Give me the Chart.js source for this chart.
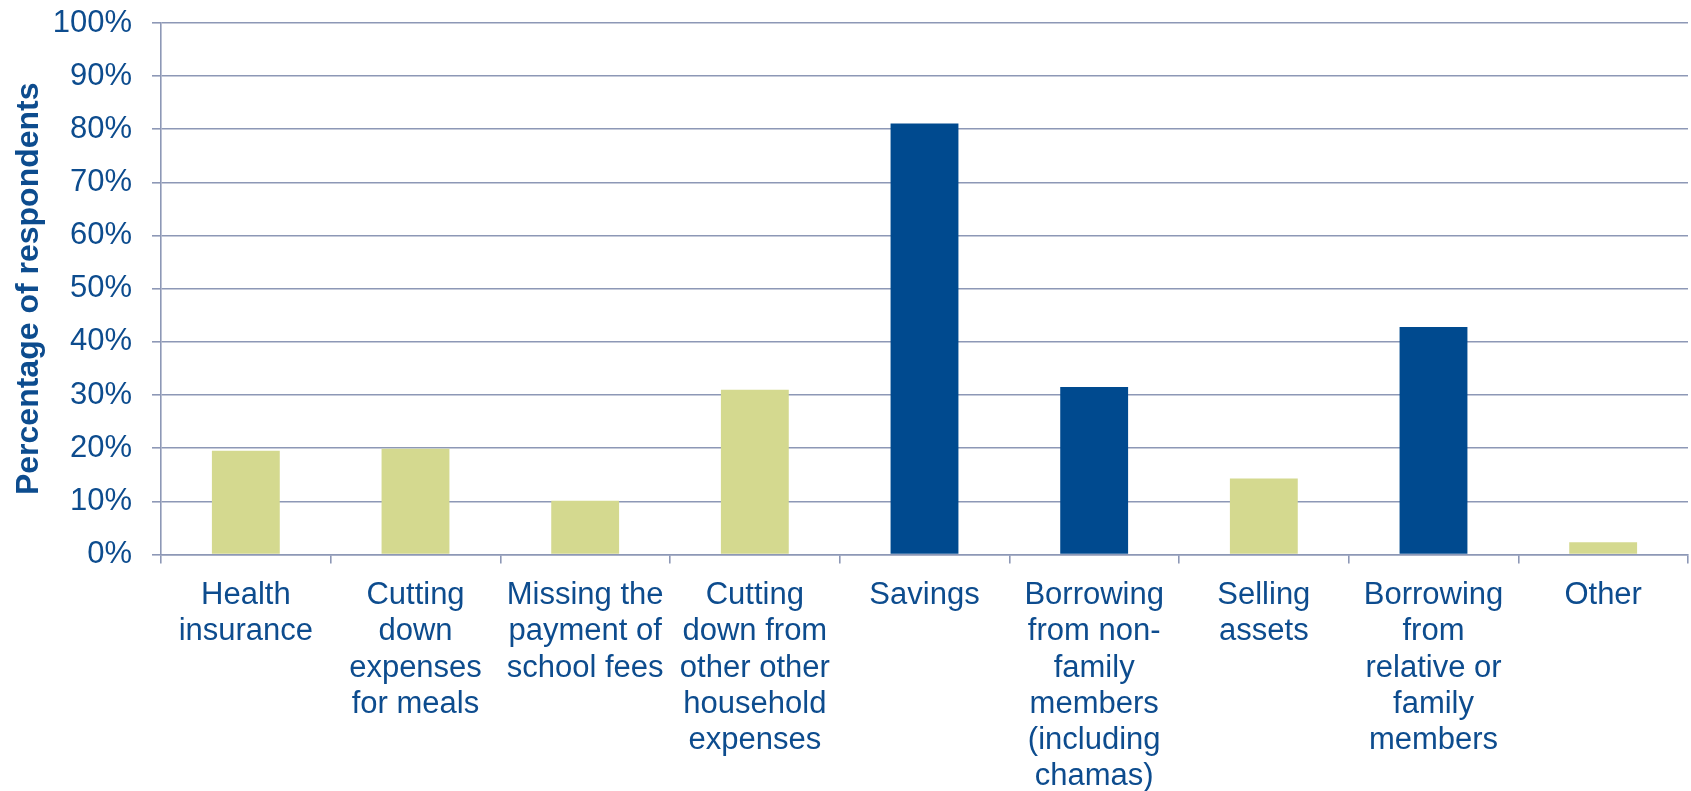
<!DOCTYPE html>
<html>
<head>
<meta charset="utf-8">
<script src="https://cdn.jsdelivr.net/npm/chart.js@4/dist/chart.umd.min.js"></script>
<style>
  html, body { margin: 0; padding: 0; background: #fff; }
  #wrap { width: 1691px; height: 791px; position: relative; }
</style>
</head>
<body>
<div id="wrap"><canvas id="coping-chart"></canvas></div>
<script>
// categories (multi-line, as wrapped in the original)
const categories = [
  ['Health', 'insurance'],
  ['Cutting', 'down', 'expenses', 'for meals'],
  ['Missing the', 'payment of', 'school fees'],
  ['Cutting', 'down from', 'other other', 'household', 'expenses'],
  ['Savings'],
  ['Borrowing', 'from non-', 'family', 'members', '(including', 'chamas)'],
  ['Selling', 'assets'],
  ['Borrowing', 'from', 'relative or', 'family', 'members'],
  ['Other']
];

// percentage of respondents
const percentages = [19.5, 19.9, 10.1, 31.0, 81.1, 31.5, 14.3, 42.8, 2.3];

// which bars are highlighted in dark blue
const highlighted = [false, false, false, false, true, true, false, true, false];

const yTicks = [0, 10, 20, 30, 40, 50, 60, 70, 80, 90, 100];

const GREEN = '#D4D98F';
const BLUE = '#004A8F';
const TEXT = '#0D4C8E';
const GRID = '#8D98B6';
const FONT = '"Liberation Sans", Arial, sans-serif';

const ctx = document.getElementById('coping-chart').getContext('2d');

new Chart(ctx, {
  type: 'bar',
  data: {
    labels: categories,
    datasets: [{
      label: 'Percentage of respondents',
      data: percentages,
      backgroundColor: highlighted.map((h) => h ? BLUE : GREEN),
      borderWidth: 0,
      barPercentage: 0.4,
      categoryPercentage: 1.0
    }]
  },
  options: {
    responsive: true,
    maintainAspectRatio: false,
    animation: false,
    layout: { padding: { top: 23, right: 3, left: 0, bottom: 0 } },
    plugins: {
      legend: { display: false },
      tooltip: { enabled: false }
    },
    scales: {
      x: {
        grid: {
          offset: true,
          drawOnChartArea: false,
          drawTicks: true,
          tickLength: 9,
          color: GRID,
          lineWidth: 1.6
        },
        border: { color: GRID, width: 1.6 },
        ticks: {
          color: TEXT,
          padding: 14,
          maxRotation: 0,
          autoSkip: false,
          font: { family: FONT, size: 31, lineHeight: 1.168 }
        },
        afterFit: (scale) => { scale.height = 236.5; }
      },
      y: {
        min: 0,
        max: 100,
        afterBuildTicks: (scale) => { scale.ticks = yTicks.map((v) => ({ value: v })); },
        grid: {
          color: GRID,
          lineWidth: 1.6,
          drawTicks: true,
          tickLength: 9
        },
        border: { color: GRID, width: 1.6 },
        ticks: {
          color: TEXT,
          padding: 20,
          callback: (v) => v + '%',
          font: { family: FONT, size: 31 }
        },
        title: {
          display: true,
          text: 'Percentage of respondents',
          color: TEXT,
          padding: { top: 10, bottom: 0 },
          font: { family: FONT, size: 32, weight: 'bold', lineHeight: 1.2 }
        },
        afterFit: (scale) => {
          scale.width = 161;
          scale.paddingTop = 0;
          scale.paddingBottom = 0;
        }
      }
    }
  }
});
</script>
</body>
</html>
